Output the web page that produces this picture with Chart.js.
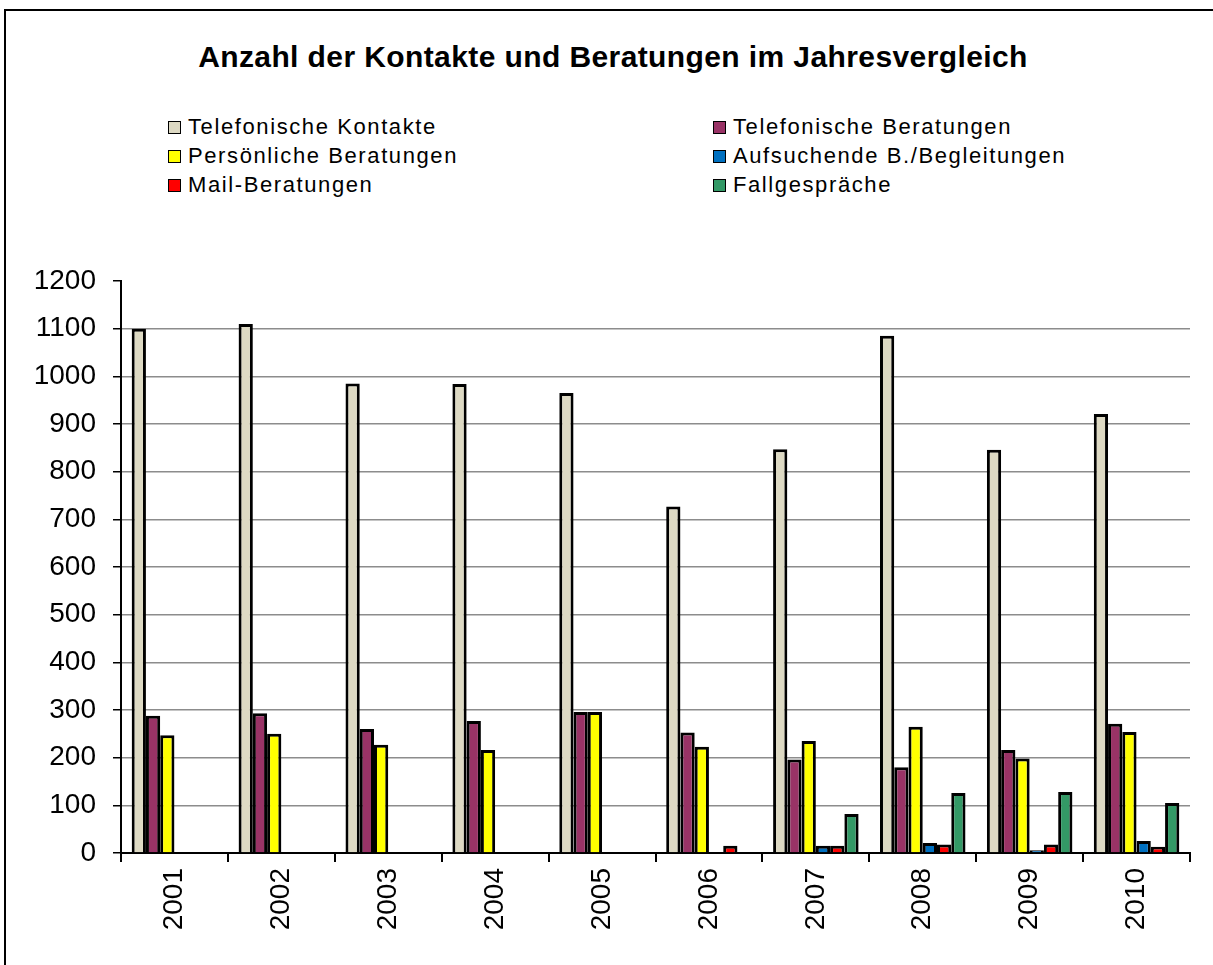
<!DOCTYPE html>
<html>
<head>
<meta charset="utf-8">
<script src="https://cdn.jsdelivr.net/npm/chart.js@4"></script>
<style>
    body { margin: 0; background: #fff; font-family: "Liberation Sans", Arial, sans-serif; }
    #wrap { position: relative; width: 1213px; height: 965px; overflow: hidden; }
    #frame { position: absolute; left: 4px; top: 9px; width: 1300px; height: 1100px; border: 2px solid #000; }
    #title { position: absolute; left: 0; width: 1226px; top: 40px; text-align: center; font-weight: bold; font-size: 30px; letter-spacing: 0.4px; }
    #legend { position: absolute; left: 0; top: 0; }
    .item { position: absolute; display: flex; align-items: center; font-size: 22px; letter-spacing: 1.6px; white-space: nowrap; }
    .box { width: 11px; height: 11px; border: 1.5px solid #000; margin-right: 7px; }
    canvas { position: absolute; left: 0; top: 0; }
</style>
</head>
<body>
<div id="wrap">
    <div id="frame"></div>
    <div id="title">Anzahl der Kontakte und Beratungen im Jahresvergleich</div>
    <div id="legend"></div>
    <canvas id="myBarChart" width="1213" height="965"></canvas>
</div>
<script>
const years = ['2001', '2002', '2003', '2004', '2005', '2006', '2007', '2008', '2009', '2010'];
const telefonKontakte = [1100, 1110, 985, 984, 965, 727, 847, 1085, 846, 921];
const telefonBeratungen = [288, 293, 260, 277, 296, 253, 196, 180, 216, 271];
const persoenlBeratungen = [247, 250, 227, 216, 296, 223, 235, 265, 198, 254];
const aufsuchende = [null, null, null, null, null, null, 15, 21, 6, 25];
const mailBeratungen = [null, null, null, null, null, 15, 15, 18, 18, 13];
const fallgespraeche = [null, null, null, null, null, null, 82, 126, 128, 105];

document.addEventListener('DOMContentLoaded', (event) => {
    const ctx = document.getElementById('myBarChart').getContext('2d');
    const myBarChart = new Chart(ctx, {
        type: 'bar',
        data: {
            labels: years,
            datasets: [
                { label: 'Telefonische Kontakte', data: telefonKontakte, backgroundColor: '#DDD9C3' },
                { label: 'Telefonische Beratungen', data: telefonBeratungen, backgroundColor: '#993366' },
                { label: 'Persönliche Beratungen', data: persoenlBeratungen, backgroundColor: '#FFFF00' },
                { label: 'Aufsuchende B./Begleitungen', data: aufsuchende, backgroundColor: '#0070C0' },
                { label: 'Mail-Beratungen', data: mailBeratungen, backgroundColor: '#FF0000' },
                { label: 'Fallgespräche', data: fallgespraeche, backgroundColor: '#339966' }
            ].map(ds => Object.assign(ds, {
                borderColor: '#000',
                borderWidth: 3,
                barPercentage: 1,
                categoryPercentage: 0.8
            }))
        },
        options: {
            responsive: false,
            animation: false,
            layout: { padding: { top: 281, right: 23, left: 0, bottom: 0 } },
            plugins: {
                legend: { display: false },
                tooltip: { enabled: false }
            },
            scales: {
                x: {
                    grid: { drawOnChartArea: false, color: '#000', tickLength: 9, lineWidth: 2 },
                    border: { color: '#000', width: 2 },
                    ticks: {
                        color: '#000',
                        minRotation: 90,
                        maxRotation: 90,
                        padding: 6,
                        font: { family: 'Liberation Sans', size: 28 }
                    },
                    afterFit: function(scale) { scale.height = 112; }
                },
                y: {
                    min: 0,
                    max: 1200,
                    grid: {
                        color: c => c.tick && c.tick.value === 1200 ? 'rgba(0,0,0,0)' : '#8c8c8c',
                        tickColor: '#000',
                        tickLength: 8,
                        lineWidth: 1.5
                    },
                    border: { color: '#000', width: 2 },
                    ticks: {
                        stepSize: 100,
                        color: '#000',
                        padding: 17,
                        font: { family: 'Liberation Sans', size: 28 },
                        callback: value => String(value)
                    },
                    afterFit: function(scale) { scale.width = 121; }
                }
            }
        }
    });

    // legend in two columns, same order as the datasets
    const legend = document.getElementById('legend');
    const colX = [168, 713];
    const rowY = [128, 157, 186];
    myBarChart.data.datasets.forEach((ds, i) => {
        const item = document.createElement('div');
        item.className = 'item';
        item.style.left = colX[i % 2] + 'px';
        item.style.top = (rowY[Math.floor(i / 2)] - 14) + 'px';
        item.innerHTML = '<span class="box" style="background:' + ds.backgroundColor + '"></span>' + ds.label;
        legend.appendChild(item);
    });
});
</script>
</body>
</html>
